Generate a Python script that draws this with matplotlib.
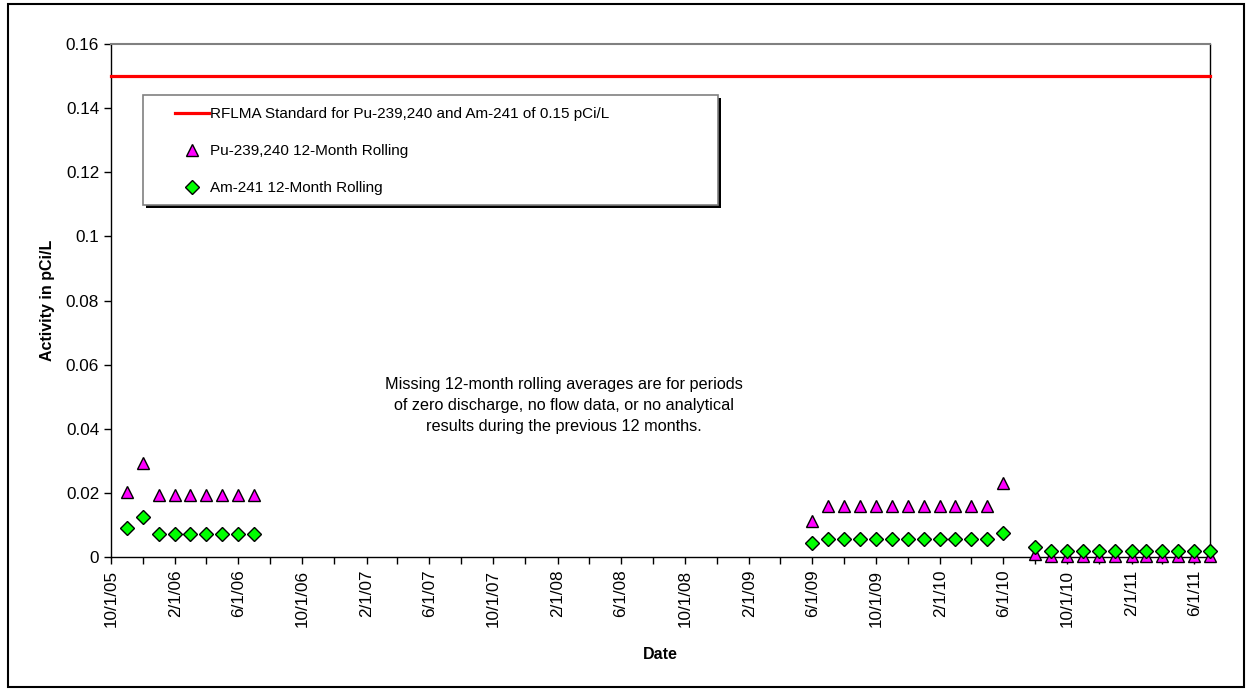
"""
RFLMA Pu/Am 12-month rolling averages - scatter with standard line
"""

import datetime as dt
import matplotlib
matplotlib.use('Agg')
import matplotlib.pyplot as plt
import matplotlib.dates as mdates
from matplotlib.patches import Rectangle

plt.rcParams['font.family'] = ['Liberation Sans', 'DejaVu Sans']

# months with a rolling average (first of month)
dates = [
    "2005-11-01", "2005-12-01", "2006-01-01", "2006-02-01", "2006-03-01",
    "2006-04-01", "2006-05-01", "2006-06-01", "2006-07-01",
    "2009-06-01", "2009-07-01", "2009-08-01", "2009-09-01", "2009-10-01",
    "2009-11-01", "2009-12-01", "2010-01-01", "2010-02-01", "2010-03-01",
    "2010-04-01", "2010-05-01", "2010-06-01",
    "2010-08-01", "2010-09-01", "2010-10-01", "2010-11-01", "2010-12-01",
    "2011-01-01", "2011-02-01", "2011-03-01", "2011-04-01", "2011-05-01",
    "2011-06-01", "2011-07-01",
]
pu_rolling = [
    0.0203, 0.0294, 0.0192, 0.0192, 0.0192, 0.0192, 0.0192, 0.0192, 0.0192,
    0.0113, 0.0160, 0.0160, 0.0160, 0.0160, 0.0160, 0.0160, 0.0160, 0.0160,
    0.0160, 0.0160, 0.0160, 0.0232,
    0.0008, 0.0002, 0.0002, 0.0002, 0.0002, 0.0002, 0.0002, 0.0002, 0.0002,
    0.0002, 0.0002, 0.0002,
]
am_rolling = [
    0.0090, 0.0124, 0.0073, 0.0073, 0.0073, 0.0073, 0.0073, 0.0073, 0.0073,
    0.0043, 0.0056, 0.0056, 0.0056, 0.0056, 0.0056, 0.0056, 0.0056, 0.0056,
    0.0056, 0.0056, 0.0056, 0.0076,
    0.0032, 0.0020, 0.0020, 0.0020, 0.0020, 0.0020, 0.0020, 0.0020, 0.0020,
    0.0020, 0.0020, 0.0020,
]
standard = 0.15
x_start = "2005-10-01"
x_end = "2011-07-01"
y_ticks = [0, 0.02, 0.04, 0.06, 0.08, 0.1, 0.12, 0.14, 0.16]

note = ("Missing 12-month rolling averages are for periods\n"
        "of zero discharge, no flow data, or no analytical\n"
        "results during the previous 12 months.")


def to_date(s):
    return dt.datetime.strptime(s, "%Y-%m-%d")


def main():
    fig = plt.figure(figsize=(12.52, 6.91), dpi=100)
    ax = fig.add_axes([0.0887, 0.1939, 0.8778, 0.7424])

    x = [to_date(d) for d in dates]
    x0, x1 = to_date(x_start), to_date(x_end)

    ax.plot([x0, x1], [standard, standard], color='#FF0000', lw=2.3,
            label="RFLMA Standard for Pu-239,240 and Am-241 of 0.15 pCi/L",
            clip_on=False, zorder=3)
    ax.plot(x, pu_rolling, ls='none', marker='^', ms=9, mfc='#FF00FF',
            mec='black', mew=1, label="Pu-239,240 12-Month Rolling",
            clip_on=False, zorder=4)
    ax.plot(x, am_rolling, ls='none', marker='D', ms=7, mfc='#00FF00',
            mec='black', mew=1, label="Am-241 12-Month Rolling",
            clip_on=False, zorder=5)

    ax.set_xlim(x0, x1)
    ax.set_ylim(0, 0.16)
    ax.set_yticks(y_ticks)
    ax.set_yticklabels([f"{v:g}" for v in y_ticks])

    ax.xaxis.set_major_locator(mdates.MonthLocator(bymonth=[2, 6, 10]))
    ax.xaxis.set_minor_locator(mdates.MonthLocator(bymonth=[4, 8, 12]))
    ax.xaxis.set_major_formatter(plt.FuncFormatter(
        lambda v, p: "{d.month}/1/{d:%y}".format(d=mdates.num2date(v))))
    for lab in ax.get_xticklabels():
        lab.set_rotation(90)

    ax.tick_params(axis='both', which='both', direction='out', length=5,
                   width=1, labelsize=12.3, color='black')
    ax.tick_params(axis='x', pad=4)

    for side in ['left', 'bottom', 'right']:
        ax.spines[side].set_color('black')
        ax.spines[side].set_linewidth(1)
    ax.spines['top'].set_color('#808080')
    ax.spines['top'].set_linewidth(1.5)

    ax.set_ylabel("Activity in pCi/L", fontsize=11.5, fontweight='bold',
                  labelpad=8)
    ax.set_xlabel("Date", fontsize=11.5, fontweight='bold', labelpad=15)

    ax.text(0.412, 0.296, note, transform=ax.transAxes, ha='center',
            va='center', fontsize=11.7, linespacing=1.5)

    # legend box with a black drop shadow, drawn by hand
    bx0, bx1, by0, by1 = 0.0291, 0.5523, 0.686, 0.9006
    ax.add_patch(Rectangle((bx0, by0), bx1 - bx0, by1 - by0,
                           transform=ax.transAxes, facecolor='white',
                           edgecolor='#808080', lw=1.2, zorder=6))
    sh = ax.transAxes.inverted().transform((3, 0))[0] - \
        ax.transAxes.inverted().transform((0, 0))[0]
    shy = ax.transAxes.inverted().transform((0, 3))[1] - \
        ax.transAxes.inverted().transform((0, 0))[1]
    ax.add_patch(Rectangle((bx0 + sh, by0 - shy), bx1 - bx0, by1 - by0,
                           transform=ax.transAxes, facecolor='black',
                           edgecolor='none', zorder=5.9))

    leg = ax.legend(loc='upper left', bbox_to_anchor=(0.0582, 0.877),
                    fontsize=11, frameon=False, labelspacing=1.5,
                    handlelength=2.22, borderpad=0, handletextpad=0.1,
                    borderaxespad=0)
    leg.set_zorder(7)

    # figure border
    fig.patches.append(Rectangle((0.006, 0.006), 0.988, 0.988,
                                 transform=fig.transFigure, fill=False,
                                 edgecolor='black', lw=1.5))

    fig.savefig("out.png", dpi=100)
    plt.close(fig)


if __name__ == "__main__":
    main()
